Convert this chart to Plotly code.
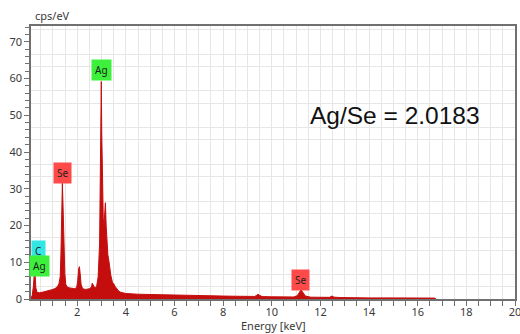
import plotly.graph_objects as go

# EDS spectrum
energy_kev = [0.10, 0.15, 0.20, 0.24, 0.27, 0.30, 0.35, 0.45, 0.60, 0.80, 1.00, 1.10, 1.20, 1.25,
              1.30, 1.33, 1.36, 1.39, 1.41, 1.43, 1.46, 1.49, 1.53, 1.60, 1.70, 1.80, 1.90, 1.98,
              2.02, 2.06, 2.09, 2.12, 2.16, 2.22, 2.35, 2.50, 2.58, 2.62, 2.66, 2.72, 2.80, 2.86,
              2.92, 2.96, 2.99, 3.01, 3.04, 3.07, 3.10, 3.13, 3.16, 3.19, 3.22, 3.26, 3.30, 3.34,
              3.38, 3.45, 3.50, 3.55, 3.62, 3.70, 3.80, 3.90, 4.00, 4.50, 5.00, 5.50, 6.00, 6.50,
              7.00, 7.50, 8.00, 8.50, 9.00, 9.30, 9.38, 9.43, 9.50, 9.60, 10.00, 10.50, 10.90,
              11.05, 11.13, 11.20, 11.28, 11.38, 11.60, 12.00, 12.38, 12.47, 12.56, 12.80, 13.00,
              14.00, 15.00, 16.00, 16.70, 16.75]
cps = [0.3, 1.0, 3.5, 7.4, 6.5, 3.0, 1.8, 1.7, 1.9, 2.2, 2.6, 2.9, 3.5, 4.2,
       6.0, 12.0, 24.0, 31.5, 27.0, 20.0, 12.0, 7.0, 4.0, 3.2, 3.0, 2.9, 2.8, 3.2,
       5.0, 8.2, 8.8, 7.0, 4.0, 2.8, 2.6, 2.8, 3.2, 4.3, 3.6, 3.0, 3.5, 6.0,
       15.0, 40.0, 59.2, 45.0, 28.0, 22.0, 20.0, 24.0, 26.2, 20.0, 14.0, 12.0, 10.5, 8.0,
       6.5, 4.5, 4.2, 3.5, 3.0, 2.2, 1.8, 1.6, 1.5, 1.3, 1.2, 1.1, 1.0, 0.95,
       0.9, 0.85, 0.8, 0.75, 0.7, 0.7, 1.0, 1.3, 1.0, 0.65, 0.6, 0.55, 0.55,
       0.9, 1.8, 2.5, 1.8, 0.8, 0.5, 0.45, 0.45, 0.8, 0.5, 0.4, 0.35,
       0.3, 0.3, 0.25, 0.25, 0.0]

peak_labels = ["Ag", "Se", "C", "Ag", "Se"]
label_x = [2.98, 1.40, 0.39, 0.43, 11.19]
label_y = [62.2, 34.3, 13.2, 9.1, 5.2]
label_colors = ["#3CF03C", "#FF4A4A", "#33E6E6", "#3CF03C", "#FF4A4A"]

ratio_text = "Ag/Se = 2.0183"
x_title = "Energy [keV]"
y_unit = "cps/eV"

x_range = [0.1, 20]
y_range = [0, 74.3]

axis_font = dict(family="Noto Sans, Open Sans, sans-serif", size=11, color="#3A3A3A")
grid_c = "#E6E6E6"
line_c = "#707070"

fig = go.Figure()
fig.add_trace(go.Scatter(
    x=energy_kev, y=cps, mode="lines", fill="tozeroy",
    line=dict(color="#C40E0E", width=1), fillcolor="#C40E0E",
    hoverinfo="skip", showlegend=False))
# invisible copy on the overlay axis that carries the 2-unit minor ticks
fig.add_trace(go.Scatter(
    x=energy_kev, y=cps, mode="lines", yaxis="y2", opacity=0,
    line=dict(width=0), hoverinfo="skip", showlegend=False))

annotations = []
for t, x, y, c in zip(peak_labels, label_x, label_y, label_colors):
    annotations.append(dict(x=x, y=y, xref="x", yref="y", text=t, showarrow=False,
                            bgcolor=c, borderpad=3, xanchor="center", yanchor="middle",
                            font=dict(family="Noto Sans, sans-serif", size=10, color="#222222")))
annotations.append(dict(x=15.05, y=49.9, xref="x", yref="y", text=ratio_text, showarrow=False,
                        xanchor="center", yanchor="middle",
                        font=dict(family="Liberation Sans, Arial, sans-serif", size=24.5, color="#111111")))
annotations.append(dict(x=0.004, y=1, xref="paper", yref="paper", text=y_unit, showarrow=False,
                        xanchor="left", yanchor="bottom", yshift=1, font=axis_font))
annotations.append(dict(x=0.5, y=0, xref="paper", yref="paper", text=x_title, showarrow=False,
                        xanchor="center", yanchor="middle", yshift=-26.5, font=axis_font))

fig.update_layout(
    width=520, height=334,
    margin=dict(l=31, r=5, t=26, b=35, autoexpand=False),
    paper_bgcolor="white", plot_bgcolor="white",
    showlegend=False,
    annotations=annotations,
    xaxis=dict(range=x_range, dtick=2, tick0=0, ticks="outside", ticklen=5, tickcolor=line_c,
               tickfont=axis_font, showgrid=True, gridcolor=grid_c, gridwidth=1,
               showline=True, linecolor=line_c, linewidth=1.5, mirror=True, zeroline=False,
               automargin=False, ticklabeloverflow="allow", ticklabelstandoff=-3,
               minor=dict(dtick=0.5, tick0=0, ticks="outside", ticklen=5, tickcolor=line_c,
                          showgrid=True, gridcolor=grid_c, gridwidth=1)),
    yaxis=dict(range=y_range, dtick=10, tick0=0, ticks="outside", ticklen=5, tickcolor=line_c,
               tickfont=axis_font, showgrid=False, zeroline=False, automargin=False,
               ticklabeloverflow="allow",
               showline=True, linecolor=line_c, linewidth=1.5, mirror=True,
               minor=dict(dtick=10 / 3, tick0=0, ticks="", showgrid=True,
                          gridcolor=grid_c, gridwidth=1)),
    yaxis2=dict(range=y_range, overlaying="y", side="left", dtick=2, tick0=0,
                ticks="outside", ticklen=5, tickcolor=line_c, showticklabels=False,
                showgrid=False, zeroline=False, showline=False, automargin=False),
)

fig.write_html("out.html")
